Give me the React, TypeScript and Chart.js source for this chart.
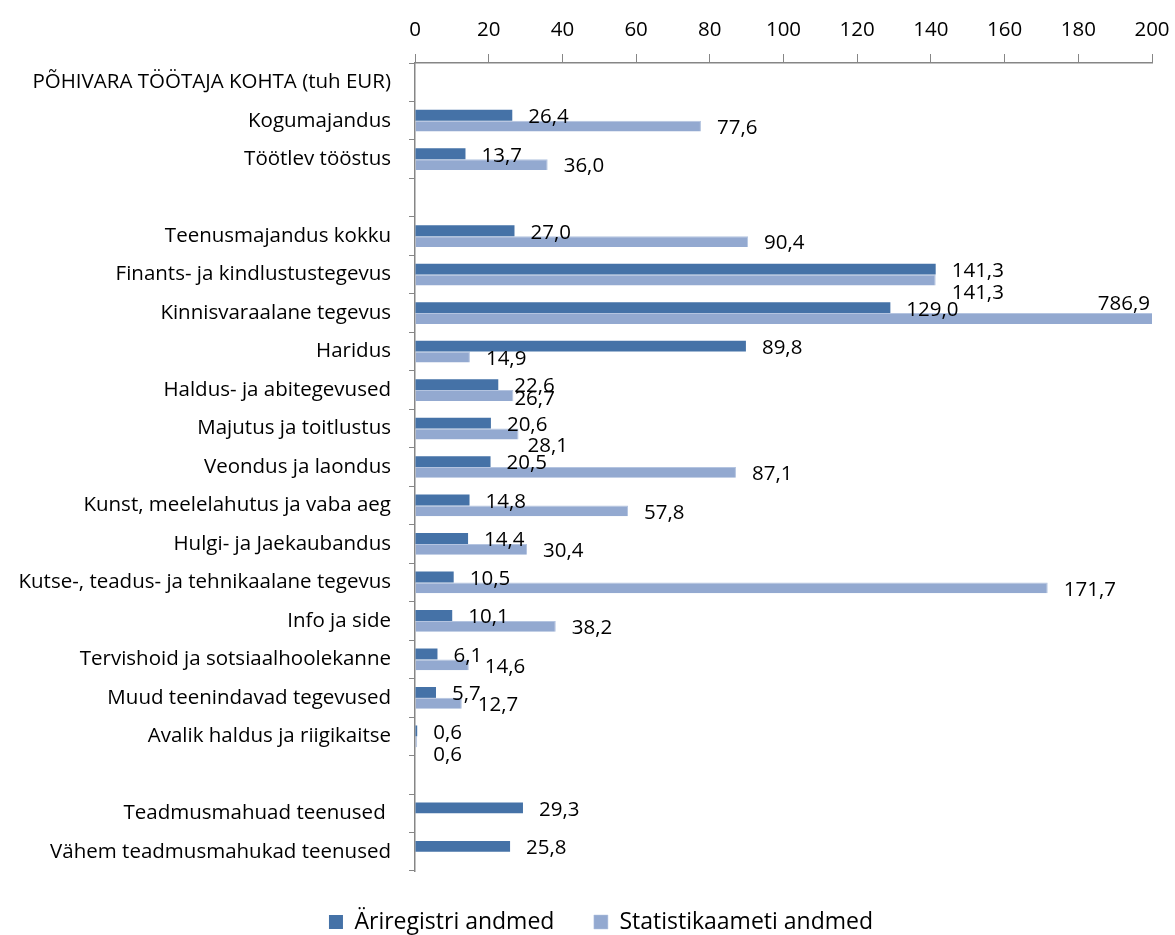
import React, { useEffect, useRef } from "react";
import { Chart, registerables } from "chart.js";

Chart.register(...registerables);

const categories: string[] = [
  "PÕHIVARA TÖÖTAJA KOHTA (tuh EUR)",
  "Kogumajandus",
  "Töötlev tööstus",
  "",
  "Teenusmajandus kokku",
  "Finants- ja kindlustustegevus",
  "Kinnisvaraalane tegevus",
  "Haridus",
  "Haldus- ja abitegevused",
  "Majutus ja toitlustus",
  "Veondus ja laondus",
  "Kunst, meelelahutus ja vaba aeg",
  "Hulgi- ja Jaekaubandus",
  "Kutse-, teadus- ja tehnikaalane tegevus",
  "Info ja side",
  "Tervishoid ja sotsiaalhoolekanne",
  "Muud teenindavad tegevused",
  "Avalik haldus ja riigikaitse",
  " ",
  "Teadmusmahuad teenused ",
  "Vähem teadmusmahukad teenused",
];

const ariregister: (number | null)[] = [
  null, 26.4, 13.7, null, 27.0, 141.3, 129.0, 89.8, 22.6, 20.6, 20.5, 14.8,
  14.4, 10.5, 10.1, 6.1, 5.7, 0.6, null, 29.3, 25.8,
];

const statistikaamet: (number | null)[] = [
  null, 77.6, 36.0, null, 90.4, 141.3, 786.9, 14.9, 26.7, 28.1, 87.1, 57.8,
  30.4, 171.7, 38.2, 14.6, 12.7, 0.6, null, null, null,
];

const seriesNames = ["Äriregistri andmed", "Statistikaameti andmed"];
const xTicks = { min: 0, max: 200, step: 20 };

const FONT = "'Open Sans', 'Noto Sans', sans-serif";
const FSIZE = 20.5;
const DARK = "#4572A7";
const LIGHT = "#93A9D0";
const AXIS = "#868686";
const AXIS_X = 415;
const LEGEND_SHIFT = 25;

// label nudges (pixels) for the few labels placed by hand in the original
const labelNudge: Record<string, { dx: number; dy: number }> = {
  "1-5": { dx: 0, dy: 11 },
  "1-8": { dx: -15, dy: 2 },
  "1-9": { dx: -7, dy: 10 },
  "1-17": { dx: 0, dy: 11 },
};

const fmt = (v: number) => v.toFixed(1).replace(".", ",");

const valueLabels = {
  id: "valueLabels",
  afterDatasetsDraw(chart: any) {
    const ctx = chart.ctx;
    const area = chart.chartArea;
    ctx.save();
    ctx.font = `${FSIZE}px ${FONT}`;
    ctx.fillStyle = "#000";
    ctx.textBaseline = "middle";
    chart.data.datasets.forEach((ds: any, di: number) => {
      const meta = chart.getDatasetMeta(di);
      meta.data.forEach((bar: any, i: number) => {
        const v = ds.data[i];
        if (v === null || v === undefined) return;
        const text = fmt(v);
        const nudge = labelNudge[`${di}-${i}`] || { dx: 0, dy: 0 };
        if (bar.x > area.right) {
          ctx.textAlign = "right";
          ctx.fillText(text, area.right - 2, bar.y - 14);
        } else {
          ctx.textAlign = "left";
          ctx.fillText(text, bar.x + 16 + nudge.dx, bar.y + 2 + nudge.dy);
        }
      });
    });
    ctx.restore();
  },
};

const legendShift = {
  id: "legendShift",
  afterLayout(chart: any) {
    const l = chart.legend;
    if (l) {
      l.left += LEGEND_SHIFT;
      l.right += LEGEND_SHIFT;
    }
  },
};

export default function App() {
  const ref = useRef<HTMLCanvasElement>(null);
  useEffect(() => {
    if (!ref.current) return;
    const chart = new Chart(ref.current, {
      type: "bar",
      data: {
        labels: categories,
        datasets: [
          {
            label: seriesNames[0],
            data: ariregister,
            backgroundColor: DARK,
            borderWidth: 0,
            categoryPercentage: 0.565,
            barPercentage: 1,
          },
          {
            label: seriesNames[1],
            data: statistikaamet,
            backgroundColor: LIGHT,
            borderColor: "#B4C4E0",
            borderWidth: { top: 1, right: 1, bottom: 0, left: 0 },
            borderSkipped: "start",
            categoryPercentage: 0.565,
            barPercentage: 1,
          },
        ],
      },
      plugins: [valueLabels, legendShift],
      options: {
        indexAxis: "y",
        animation: false,
        responsive: true,
        maintainAspectRatio: false,
        layout: { padding: { left: 0, right: 23, top: 0, bottom: -8.5 } },
        scales: {
          x: {
            position: "top",
            min: xTicks.min,
            max: xTicks.max,
            ticks: {
              stepSize: xTicks.step,
              color: "#000",
              font: { family: FONT, size: FSIZE },
              padding: 12,
              maxRotation: 0,
            },
            grid: {
              drawOnChartArea: false,
              drawTicks: true,
              tickLength: 9,
              color: AXIS,
            },
            border: { color: AXIS, width: 1.5 },
            afterFit: (s: any) => {
              s.height = 63;
              s.paddingRight = 0;
              s.paddingLeft = 0;
            },
          },
          y: {
            ticks: {
              color: "#000",
              font: { family: FONT, size: FSIZE },
              padding: 18,
              autoSkip: false,
            },
            grid: {
              drawOnChartArea: false,
              drawTicks: true,
              tickLength: 6,
              offset: true,
              color: AXIS,
            },
            border: { color: AXIS, width: 1.5 },
            afterFit: (s: any) => {
              s.width = AXIS_X;
              s.paddingTop = 0;
              s.paddingBottom = 0;
            },
          },
        },
        plugins: {
          legend: {
            position: "bottom",
            labels: {
              color: "#000",
              font: { family: FONT, size: 23 },
              boxWidth: 14,
              boxHeight: 14,
              padding: 39.5,
            },
          },
          tooltip: { enabled: false },
        },
      },
    });
    return () => chart.destroy();
  }, []);
  return (
    <div style={{ position: "fixed", left: 0, top: 0, width: 1175, height: 935, background: "#fff" }}>
      <canvas ref={ref} />
    </div>
  );
}
